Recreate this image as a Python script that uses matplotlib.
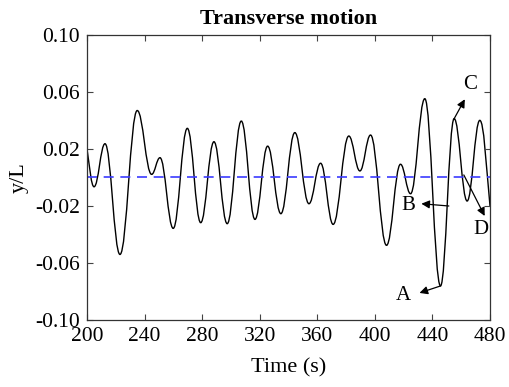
import matplotlib
matplotlib.use('Agg')
import matplotlib.pyplot as plt
from matplotlib.path import Path
import matplotlib.patches as patches

plt.rcParams['font.family'] = ['Liberation Serif', 'DejaVu Serif']
plt.rcParams['axes.unicode_minus'] = False

# turning points of the response (time s, y/L)
t_pts = [200.0, 204.9, 212.5, 222.9, 234.9, 244.9, 250.7, 259.9, 269.7, 279.0,
         288.2, 297.4, 307.2, 316.7, 325.5, 334.7, 344.4, 354.2, 362.3, 371.0,
         381.9, 389.6, 397.0, 408.1, 417.8, 424.8, 434.7, 445.6, 455.1, 464.1,
         472.9, 480.0]
y_pts = [0.020, -0.0065, 0.0237, -0.054, 0.047, 0.0022, 0.0139, -0.0357, 0.0345, -0.0317,
         0.0251, -0.0324, 0.0396, -0.0294, 0.022, -0.0254, 0.0315, -0.0184, 0.010, -0.0329,
         0.0291, 0.0046, 0.0298, -0.0476, 0.0093, -0.0114, 0.0553, -0.0761, 0.0413, -0.0165,
         0.0401, -0.020]

x_ticks = [200, 240, 280, 320, 360, 400, 440, 480]
y_ticks = [-0.10, -0.06, -0.02, 0.02, 0.06, 0.10]
y_ticklabels = ['-0.10', '-0.06', '-0.02', '0.02', '0.06', '0.10']

# labels: (text, text position, arrow head, arrow tail)
notes = [
    ('A', (419.5, -0.083), (431.0, -0.081), (445.6, -0.0761)),
    ('B', (423.0, -0.0193), (432.3, -0.0184), (451.4, -0.020)),
    ('C', (466.0, 0.0654), (462.5, 0.0549), (455.1, 0.0413)),
    ('D', (474.0, -0.0364), (476.3, -0.027), (461.8, 0.0018)),
]

fig = plt.figure(figsize=(5.1, 3.87), dpi=100)
ax = fig.add_axes([0.1706, 0.1731, 0.7902, 0.7365])

# smooth curve through the turning points (horizontal tangents at extrema)
verts = [(t_pts[0], y_pts[0])]
codes = [Path.MOVETO]
a = 0.4
for i in range(len(t_pts) - 1):
    t0, y0, t1, y1 = t_pts[i], y_pts[i], t_pts[i + 1], y_pts[i + 1]
    dt = t1 - t0
    c1 = (t0 + a * dt, y0) if i > 0 else (t0 + a * dt, y0 + 0.5 * (y1 - y0))
    c2 = (t1 - a * dt, y1) if i < len(t_pts) - 2 else (t1 - a * dt, y1 - 0.5 * (y1 - y0))
    verts += [c1, c2, (t1, y1)]
    codes += [Path.CURVE4] * 3
ax.add_patch(patches.PathPatch(Path(verts, codes), facecolor='none',
                               edgecolor='black', lw=1.0))

ax.axhline(0.0, color='#3b3bff', lw=1.2, ls=(0, (6, 4)))

for lab, tp, head, tail in notes:
    ax.text(tp[0], tp[1], lab, ha='center', va='center', fontsize=15)
    ax.annotate('', xy=head, xytext=tail,
                arrowprops=dict(arrowstyle='-|>', color='black', lw=0.9,
                                mutation_scale=12, shrinkA=0, shrinkB=0))

ax.set_xlim(200, 480)
ax.set_ylim(-0.10, 0.10)
ax.set_xticks(x_ticks)
ax.set_yticks(y_ticks)
ax.set_yticklabels(y_ticklabels)
ax.tick_params(direction='in', top=True, right=True, labelsize=15.5, length=4,
               color='#444444', pad=5)
ax.tick_params(axis='x', pad=5)
for s in ax.spines.values():
    s.set_color('#333333')
    s.set_linewidth(0.9)

ax.set_title('Transverse motion', fontsize=16, fontweight='bold', pad=8)
ax.set_xlabel('Time (s)', fontsize=16, labelpad=9)
ax.set_ylabel('y/L', fontsize=16, labelpad=5)

fig.savefig('out.png', dpi=100)
